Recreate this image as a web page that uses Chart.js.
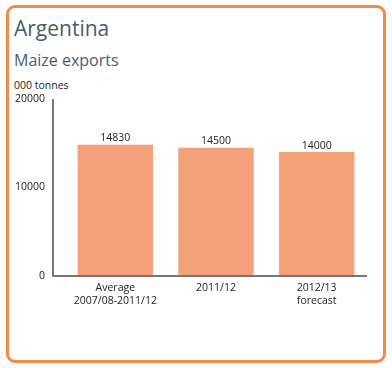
<!DOCTYPE html>
<html>
<head>
<meta charset="utf-8">
<script src="https://cdn.jsdelivr.net/npm/chart.js@4/dist/chart.umd.min.js"></script>
<style>
  html, body { margin: 0; padding: 0; background: #fff; }
  body { width: 392px; height: 368px; position: relative; overflow: hidden; font-family: "Open Sans", sans-serif; }
  #frame { position: absolute; left: 6px; top: 5px; width: 374px; height: 352px; border: 3px solid #f08a4b; border-radius: 9px; }
  #title { position: absolute; left: 14px; top: 14px; font-size: 21px; color: #4b5b6c; }
  #sub { position: absolute; left: 14px; top: 49px; font-size: 16px; color: #4b5b6c; }
  #unit { position: absolute; left: 14px; top: 78px; font-size: 10.5px; color: #222; }
  #wrap { position: absolute; left: 0; top: 0; width: 392px; height: 368px; }
</style>
</head>
<body>
<div id="frame"></div>
<div id="title">Argentina</div>
<div id="sub">Maize exports</div>
<div id="unit">000 tonnes</div>
<div id="wrap"><canvas id="c"></canvas></div>
<script>
const categories = [["Average", "2007/08-2011/12"], "2011/12", ["2012/13", "forecast"]];
const exports = [14830, 14500, 14000];
const yTicks = [0, 10000, 20000];

const axisColor = "#777";

// axis lines drawn a bit left of the first category, like the original
const axesPlugin = {
  id: "axes",
  afterDatasetsDraw(chart) {
    const { ctx, chartArea } = chart;
    const x0 = chartArea.left - 12;
    ctx.save();
    ctx.strokeStyle = axisColor;
    ctx.lineWidth = 2;
    ctx.beginPath();
    ctx.moveTo(x0, chartArea.top);
    ctx.lineTo(x0, chartArea.bottom);
    ctx.lineTo(chartArea.right, chartArea.bottom);
    ctx.stroke();
    // value labels
    ctx.fillStyle = "#222";
    ctx.font = "10.5px 'Open Sans'";
    ctx.textAlign = "center";
    ctx.textBaseline = "bottom";
    chart.getDatasetMeta(0).data.forEach((bar, i) => {
      ctx.fillText(String(exports[i]), bar.x, bar.y - 1);
    });
    ctx.restore();
  },
};

new Chart(document.getElementById("c"), {
  type: "bar",
  data: {
    labels: categories,
    datasets: [{ data: exports, backgroundColor: "#f4a07b", barPercentage: 0.75, categoryPercentage: 1 }],
  },
  options: {
    responsive: true,
    maintainAspectRatio: false,
    animation: false,
    layout: { padding: { top: 99, right: 25, left: 0, bottom: 0 } },
    plugins: { legend: { display: false }, tooltip: { enabled: false } },
    scales: {
      x: {
        offset: true,
        grid: { display: false, drawTicks: false },
        border: { display: false },
        ticks: { color: "#222", font: { family: "Open Sans", size: 10.5 }, padding: 6, maxRotation: 0 },
        afterFit: (s) => { s.height = 92; },
      },
      y: {
        min: 0,
        max: 20000,
        afterBuildTicks: (s) => { s.ticks = yTicks.map((v) => ({ value: v })); },
        grid: { display: false, drawTicks: false },
        border: { display: false },
        ticks: { color: "#222", font: { family: "Open Sans", size: 10.5 }, padding: 20, callback: (v) => String(v) },
        afterFit: (s) => { s.width = 65; },
      },
    },
  },
  plugins: [axesPlugin],
});
</script>
</body>
</html>
